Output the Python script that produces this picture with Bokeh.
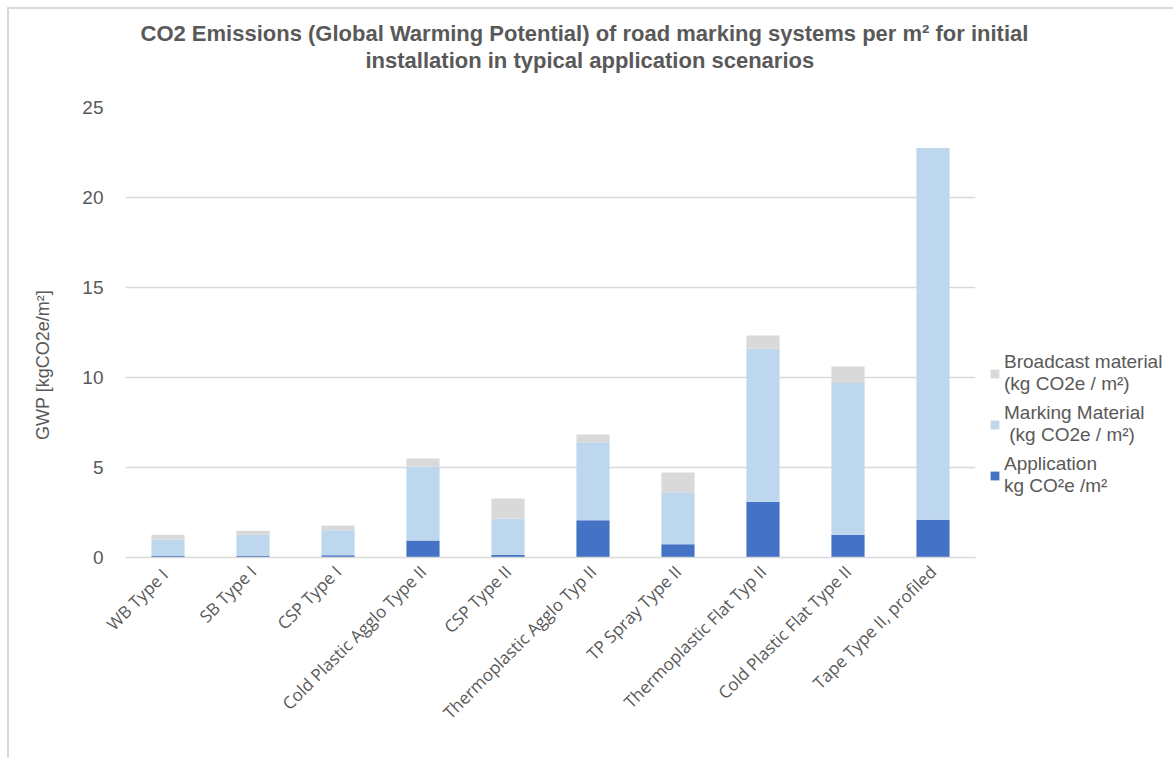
import math
from bokeh.plotting import figure
from bokeh.layouts import column
from bokeh.models import Legend, LegendItem, Range1d, FactorRange, Title
from bokeh.embed import file_html
from bokeh.resources import INLINE

categories = ["WB  Type I", "SB Type I", "CSP Type I", "Cold Plastic Agglo Type II",
              "CSP Type II", "Thermoplastic Agglo Typ II", "TP Spray Type II",
              "Thermoplastic Flat Typ II", "Cold Plastic Flat Type II", "Tape Type II, profiled"]
application = [0.10, 0.10, 0.12, 0.95, 0.15, 2.07, 0.74, 3.10, 1.26, 2.10]
marking = [0.90, 1.16, 1.40, 4.10, 2.02, 4.33, 2.89, 8.50, 8.44, 20.65]
broadcast = [0.26, 0.22, 0.26, 0.45, 1.11, 0.43, 1.09, 0.73, 0.91, 0.00]

series = ["application", "marking", "broadcast"]
colors = ["#4472C4", "#BDD7EE", "#D9D9D9"]
labels = ["Application\nkg CO\u00b2e /m\u00b2", "Marking Material\n (kg CO2e / m\u00b2)",
          "Broadcast material\n(kg CO2e / m\u00b2)"]
title_lines = ["CO2 Emissions (Global Warming Potential) of road marking systems per m\u00b2 for initial",
               "installation in typical application scenarios"]

data = dict(cat=categories, application=application, marking=marking, broadcast=broadcast)

TXT = "#595959"

p = figure(x_range=FactorRange(*categories), y_range=Range1d(0, 25),
           frame_width=850, frame_height=450, output_backend="svg", toolbar_location=None,
           title=title_lines[0],
           min_border_left=116, min_border_right=190, min_border_top=98, min_border_bottom=205)

renderers = p.vbar_stack(series, x="cat", width=0.39, color=colors, line_color=None, source=data)

items = [LegendItem(label=labels[i], renderers=[renderers[i]]) for i in (2, 1, 0)]
legend = Legend(items=items, location=(14, 60), label_text_font="Liberation Sans",
                label_text_font_size="19px", label_text_color=TXT, glyph_width=11,
                glyph_height=11, spacing=7, border_line_color=None, background_fill_alpha=0,
                label_standoff=4, padding=0, margin=0, label_height=44)
p.add_layout(legend, "right")

p.title.text_font = "Liberation Sans"
p.title.text_font_size = "22px"
p.title.text_color = TXT
p.title.align = "left"
p.title.offset = 15
p.title.standoff = 0

spacer = Title(text="\u00a0", text_font="Liberation Sans", text_font_size="22px",
               text_color="white", standoff=8)
p.add_layout(spacer, "above")
t2 = Title(text=title_lines[1], text_font="Liberation Sans", text_font_size="22px",
           text_color=TXT, align="left", offset=240, standoff=0)
p.add_layout(t2, "above")

p.outline_line_color = None
p.xgrid.grid_line_color = None
p.ygrid.grid_line_color = "#d9d9d9"
p.ygrid.grid_line_width = 1.5

p.yaxis.ticker = [0, 5, 10, 15, 20, 25]
p.yaxis.axis_line_color = None
p.yaxis.major_tick_line_color = None
p.yaxis.minor_tick_line_color = None
p.yaxis.major_label_text_font = "Liberation Sans"
p.yaxis.major_label_text_font_size = "19px"
p.yaxis.major_label_text_color = TXT
p.yaxis.major_label_standoff = 16
p.yaxis.axis_label = "GWP [kgCO2e/m\u00b2]" + "\u00a0" * 13
p.yaxis.axis_label_text_font = "Liberation Sans"
p.yaxis.axis_label_text_font_style = "normal"
p.yaxis.axis_label_text_font_size = "18px"
p.yaxis.axis_label_text_color = TXT
p.yaxis.axis_label_standoff = 26

p.xaxis.axis_line_color = "#d9d9d9"
p.xaxis.axis_line_width = 1.5
p.xaxis.major_tick_line_color = None
p.xaxis.minor_tick_line_color = None
p.xaxis.major_label_orientation = math.pi / 4
p.xaxis.major_label_text_font = "Open Sans"
p.xaxis.major_label_text_font_size = "17px"
p.xaxis.major_label_text_color = TXT
p.xaxis.major_label_standoff = 5

page = column(p, styles={"margin-left": "7px", "margin-top": "7px",
                         "border-left": "2px solid #d9d9d9", "border-top": "2px solid #d9d9d9"})

open("out.html", "w").write(file_html(page, INLINE))
